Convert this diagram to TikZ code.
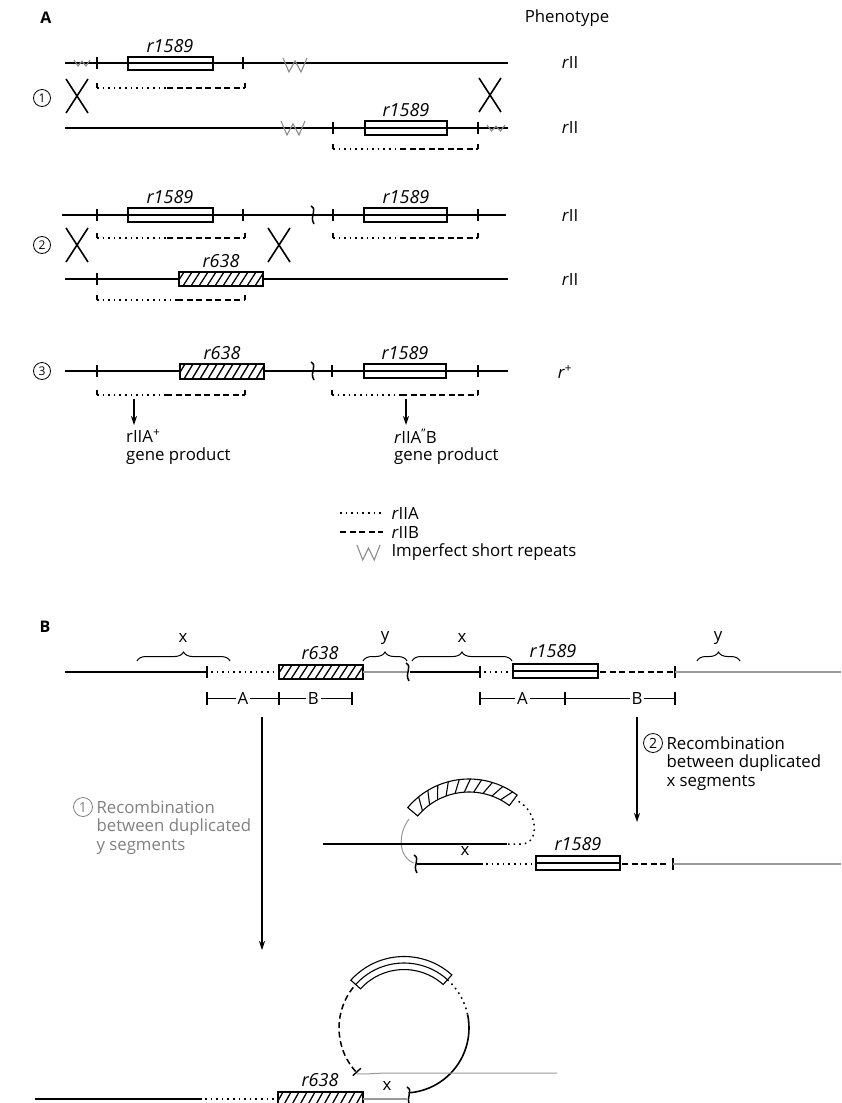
\documentclass[tikz,border=0pt]{standalone}
\usepackage{fontspec}
\setmainfont{Open Sans}
\usetikzlibrary{arrows.meta,decorations.pathreplacing,calc}

\newcommand{\gtick}[2]{\draw[tck] (#1,#2-6) -- (#1,#2+6);}
\newcommand{\gbracket}[4]{%
  \draw[tck] (#1,#4-5) -- (#1,#4);
  \draw[dots] (#1,#4) -- (#2,#4);
  \draw[dashes] (#2,#4) -- (#3,#4);
  \draw[tck] (#3,#4) -- (#3,#4-5);}
\newcommand{\wrpt}[4]{\draw[rpt] (#1,#2) -- ++(0.25*#3,#4) -- ++(0.25*#3,-0.8*#4) -- ++(0.25*#3,0.8*#4) -- ++(0.25*#3,-#4);}
\newcommand{\gbreak}[2]{\draw[brk] (#1-2,#2-9) .. controls (#1+5,#2-5) and (#1-4,#2+1) .. (#1+1,#2+9);}
\newcommand{\hatchrect}[4]{%
  \fill[white] (#1,#2) rectangle (#3,#4);
  \begin{scope}
    \clip (#1,#2) rectangle (#3,#4);
    \foreach \h in {-12,-4,...,92} \draw[line width=1.3pt] ({#1+\h},#4) -- ({#1+\h+9},#2);
  \end{scope}
  \draw[genebox] (#1,#2) rectangle (#3,#4);}

\begin{document}
\begin{tikzpicture}[x=1pt,y=-1pt,
    every node/.style={font=\fontsize{16.8}{19}\selectfont},
    gene/.style={font=\fontsize{18}{20}\selectfont\itshape},
    dna/.style={line width=1.6pt},
    grayline/.style={line width=1.2pt,black!40},
    tck/.style={line width=1.4pt},
    brk/.style={line width=1.5pt},
    dots/.style={line width=1.5pt,dash pattern=on 1.6pt off 4pt},
    dashes/.style={line width=1.5pt,dash pattern=on 6pt off 3.5pt},
    genebox/.style={draw,line width=1.1pt},
    rpt/.style={black!45,line width=1.1pt},
    cross/.style={line width=1.6pt},
    num/.style={circle,draw,line width=0.8pt,inner sep=0pt,minimum size=17pt,font=\fontsize{12}{12}\selectfont},
    bar/.style={line width=0.9pt},
    arr/.style={line width=1.1pt,-{Stealth[length=9pt,width=6pt]}}]
\useasboundingbox (0,0) rectangle (841,1103);
\clip (0,0) rectangle (841,1103);

% part A
\node[font=\fontsize{16}{18}\selectfont\bfseries] (A) at (46,18) {A};
\node (pheno) at (567,18) {Phenotype};

\node[num] (n1) at (42,98) {1};
\draw[dna] (65,63) -- (508,63);
\wrpt{74}{60}{16}{6}
\gtick{97}{63} \gtick{243}{63}
\draw[genebox] (128,57) rectangle (213,70);
\node[gene] (r1a) at (170,46) {r1589};
\wrpt{283}{58}{24}{14}
\gbracket{97}{167}{245}{88}
\draw[cross] (66,79) -- (88,113) (88,79) -- (66,113);
\node (p1a) at (570,63) {\textit{r}II};

\draw[dna] (65,128) -- (508,128);
\wrpt{281}{121}{24}{14}
\gtick{333}{128} \gtick{478}{128}
\draw[genebox] (365,121) rectangle (447,135);
\node[gene] (r1b) at (406,110) {r1589};
\wrpt{487}{125}{18}{6}
\gbracket{333}{400}{478}{149}
\draw[cross] (479,78) -- (501,112) (501,78) -- (479,112);
\node (p1b) at (570,128) {\textit{r}II};

\node[num] (n2) at (42,245) {2};
\draw[dna] (62,215) -- (506,215);
\gtick{97}{215} \gtick{243}{215} \gtick{333}{215} \gtick{478}{215}
\draw[genebox] (128,208) rectangle (213,222);
\node[gene] (r2a) at (170,197) {r1589};
\gbreak{313}{215}
\draw[genebox] (364,208) rectangle (447,222);
\node[gene] (r2b) at (406,197) {r1589};
\gbracket{97}{167}{245}{238}
\gbracket{333}{400}{478}{238}
\draw[cross] (66,228) -- (88,262) (88,228) -- (66,262);
\draw[cross] (268,228) -- (290,262) (290,228) -- (268,262);
\node (p2a) at (570,215) {\textit{r}II};

\draw[dna] (65,279) -- (508,279);
\gtick{97}{279}
\hatchrect{179}{272}{263}{286}
\node[gene] (r2c) at (221,261) {r638};
\gbracket{97}{177}{245}{300}
\node (p2b) at (570,279) {\textit{r}II};

\node[num] (n3) at (42,371) {3};
\draw[dna] (65,371) -- (508,371);
\gtick{97}{371} \gtick{332}{371} \gtick{478}{371}
\hatchrect{180}{364}{264}{379}
\node[gene] (r3a) at (222,353) {r638};
\gbreak{313}{371}
\draw[genebox] (364,364) rectangle (446,378);
\node[gene] (r3b) at (405,353) {r1589};
\gbracket{97}{166}{245}{395}
\gbracket{332}{401}{478}{395}
\node (p3) at (565,372) {\textit{r}\textsuperscript{+}};
\coordinate (a1s) at (134,399); \coordinate (a1e) at (134,425);
\coordinate (a2s) at (406,399); \coordinate (a2e) at (406,425);
\draw[arr] (a1s) -- (a1e);
\draw[arr] (a2s) -- (a2e);
\node[anchor=west,inner sep=1pt] (prodA) at (125,436) {rIIA\textsuperscript{+}};
\node[anchor=west,inner sep=1pt] (prodA2) at (125,456) {gene product};
\node[anchor=west,inner sep=1pt] (prodB) at (393,436) {\textit{r}IIA\textsuperscript{''}B};
\node[anchor=west,inner sep=1pt] (prodB2) at (393,456) {gene product};

% legend
\draw[dots] (340,513) -- (383,513);
\node[anchor=west] (kA) at (388,513) {\textit{r}IIA};
\draw[dashes] (340,532) -- (383,532);
\node[anchor=west] (kB) at (388,532) {\textit{r}IIB};
\wrpt{357}{545}{23}{15}
\node[anchor=west] (kW) at (388,552) {Imperfect short repeats};

% part B
\node[font=\fontsize{16}{18}\selectfont\bfseries] (B) at (45,627) {B};
\draw[dna] (65,672) -- (207,672);
\gtick{207}{672}
\draw[dots] (211,672) -- (278,672);
\hatchrect{279}{665}{363}{679}
\node[gene] (rB1) at (320,653) {r638};
\draw[grayline] (363,672) -- (407,672);
\gbreak{408}{672}
\draw[dna] (410,672) -- (480,672);
\gtick{480}{672}
\draw[dots] (484,672) -- (512,672);
\draw[dna] (513,671) -- (598,671);
\draw[genebox] (513,664) rectangle (598,678);
\node[gene] (rB2) at (553,651) {r1589};
\draw[dashes] (600,672) -- (673,672);
\gtick{675}{672}
\draw[grayline] (675,672) -- (841,672);

\draw[decorate,decoration={brace,amplitude=9pt},line width=1pt] (137,661) -- (230,661);
\node (bx1) at (183,638) {x};
\draw[decorate,decoration={brace,amplitude=9pt},line width=1pt] (363,661) -- (407,661);
\node (by1) at (385,638) {y};
\draw[decorate,decoration={brace,amplitude=9pt},line width=1pt] (412,661) -- (512,661);
\node (bx2) at (462,638) {x};
\draw[decorate,decoration={brace,amplitude=9pt},line width=1pt] (697,661) -- (740,661);
\node (by2) at (718,638) {y};

\foreach \t in {207,279,352,480,565,675} \draw[tck] (\t,692) -- (\t,705);
\draw[bar] (207,698) -- (279,698) node[pos=0.5,fill=white,inner sep=2pt] (sA1) {A};
\draw[bar] (279,698) -- (352,698) node[pos=0.47,fill=white,inner sep=2pt] (sB1) {B};
\draw[bar] (480,698) -- (565,698) node[pos=0.5,fill=white,inner sep=2pt] (sA2) {A};
\draw[bar] (565,698) -- (675,698);
\node[fill=white,inner sep=2pt] (sB2) at (637,698) {B};

\coordinate (s1) at (262,717); \coordinate (e1) at (262,950);
\coordinate (s2) at (637,717); \coordinate (e2) at (637,822);
\draw[arr] (s1) -- (e1);
\draw[arr] (s2) -- (e2);

\node[num,minimum size=19pt,font=\fontsize{14}{14}\selectfont] (n4) at (653,743) {2};
\node[anchor=west] (t2a) at (663,743) {Recombination};
\node[anchor=west] (t2b) at (663,763) {between duplicated};
\node[anchor=west] (t2c) at (663,783) {x segments};
\begin{scope}[black!50]
\node[num,draw=black!50,minimum size=19pt,font=\fontsize{14}{14}\selectfont] (n5) at (83,807) {1};
\node[anchor=west] (t1a) at (93,807) {Recombination};
\node[anchor=west] (t1b) at (93,827) {between duplicated};
\node[anchor=west] (t1c) at (93,847) {y segments};
\end{scope}

% intermediate after x recombination
\coordinate (C1) at (469,859);
\draw[genebox,fill=white] ($(C1)+(-140:80)$) arc[start angle=-140,end angle=-53,radius=80]
  -- ($(C1)+(-53:67)$) arc[start angle=-53,end angle=-140,radius=67] -- cycle;
\foreach \a in {-134,-126,...,-58} \draw[line width=1.1pt] ($(C1)+(\a:67)$) -- ($(C1)+(\a+5:80)$);
\draw[grayline,line width=1pt] (409,819) .. controls (397,835) and (399,858) .. (414,863);
\draw[dots] (508,844) -- (522,844) .. controls (540,843) and (538,812) .. (518,801);
\draw[dna] (323,844) -- (507,844);
\gbreak{416}{864}
\draw[dna] (417,864) -- (483,864);
\draw[dots] (486,864) -- (535,864);
\draw[dna] (536,863) -- (620,863);
\draw[genebox] (536,856) rectangle (620,870);
\node[gene] (rI) at (578,844) {r1589};
\draw[dashes] (622,864) -- (669,864);
\gtick{673}{864}
\draw[grayline] (673,864) -- (841,864);
\node (xI) at (465,851) {x};

% circle after y recombination
\coordinate (C2) at (404,1028);
\draw[genebox,fill=white] ($(C2)+(-138:71.5)$) arc[start angle=-138,end angle=-48,radius=71.5]
  -- ($(C2)+(-48:58.5)$) arc[start angle=-48,end angle=-138,radius=58.5] -- cycle;
\draw[line width=1.1pt] ($(C2)+(-138:65)$) arc[start angle=-138,end angle=-48,radius=65];
\draw[dots] ($(C2)+(-48:65)$) arc[start angle=-48,end angle=-12,radius=65];
\draw[dna] ($(C2)+(-12:65)$) arc[start angle=-12,end angle=86,radius=65];
\draw[dashes] ($(C2)+(138:65)$) arc[start angle=138,end angle=222,radius=65];
\draw[tck] ($(C2)+(137:59)$) -- ($(C2)+(137:70)$);
\draw[grayline,line width=1pt] ($(C2)+(136:66)$) .. controls (365,1074) .. (385,1073) -- (557,1073);
\gbreak{409}{1096}
\draw[dna] (35,1099) -- (202,1099);
\draw[dots] (205,1099) -- (277,1099);
\hatchrect{278}{1092}{363}{1108}
\draw[grayline] (363,1099) -- (407,1099);
\node[gene] (rC) at (320,1080) {r638};
\node (xC) at (387,1086) {x};
\end{tikzpicture}
\end{document}
